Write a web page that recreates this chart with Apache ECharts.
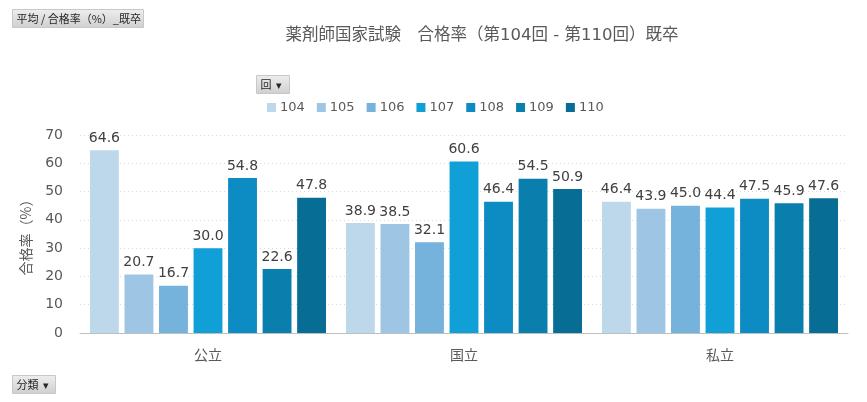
<!DOCTYPE html>
<html><head><meta charset="utf-8">
<script src="https://cdn.jsdelivr.net/npm/echarts@6/dist/echarts.min.js"></script>
<style>html,body{margin:0;padding:0;background:#fff}#c{width:867px;height:402px}</style>
</head><body><div id="c"></div>
<script>
const categories = ['公立', '国立', '私立'];
const seriesNames = ['104', '105', '106', '107', '108', '109', '110'];
const s104 = [64.6, 38.9, 46.4];
const s105 = [20.7, 38.5, 43.9];
const s106 = [16.7, 32.1, 45.0];
const s107 = [30.0, 60.6, 44.4];
const s108 = [54.8, 46.4, 47.5];
const s109 = [22.6, 54.5, 45.9];
const s110 = [47.8, 50.9, 47.6];
const yTicks = [0, 10, 20, 30, 40, 50, 60, 70];
const seriesValues = [s104, s105, s106, s107, s108, s109, s110];
const colors = ['#BDD7EB', '#9EC6E4', '#75B2DC', '#109FD6', '#0D8CC3', '#0A7FAD', '#086D95'];
const FONT = '"DejaVu Sans", "Noto Sans CJK JP", sans-serif';
const CJK = '"Noto Sans CJK JP", sans-serif';

const chart = echarts.init(document.getElementById('c'));
function btn(x, y, w, h, text) {
  return {
    type: 'group', left: x, top: y,
    children: [
      { type: 'rect', shape: { x: 0, y: 0, width: w, height: h },
        style: { fill: new echarts.graphic.LinearGradient(0, 0, 0, 1, [
          { offset: 0, color: '#eeeeee' }, { offset: 1, color: '#cfcfcf' }]),
          stroke: '#c8c8c8', lineWidth: 1 } },
      { type: 'text', x: 4, y: h / 2, style: { text: text, fontSize: 11, fontFamily: CJK, fill: '#262626', verticalAlign: 'middle' } }
    ]
  };
}
chart.setOption({
  animation: false,
  color: colors,
  title: {
    text: '薬剤師国家試験　合格率（第104回 - 第110回）既卒',
    left: 477, top: 22, textAlign: 'center',
    textStyle: { fontSize: 16.5, fontWeight: 'normal', color: '#595959', fontFamily: FONT }
  },
  legend: {
    top: 96, left: 262, itemWidth: 9, itemHeight: 9, itemGap: 12,
    icon: 'rect',
    textStyle: { fontSize: 13, color: '#595959', fontFamily: FONT, padding: [0, 0, 0, -1] },
    data: seriesNames
  },
  grid: { left: 80, right: 19, top: 135, bottom: 69, containLabel: false },
  xAxis: {
    type: 'category', data: categories,
    axisLine: { lineStyle: { color: '#bfbfbf' } },
    axisTick: { show: false },
    axisLabel: { fontSize: 14, color: '#595959', fontFamily: CJK, margin: 15 }
  },
  yAxis: {
    type: 'value', min: yTicks[0], max: yTicks[yTicks.length - 1], interval: 10,
    name: '合格率（%）', nameLocation: 'middle', nameGap: 47,
    nameTextStyle: { fontSize: 14, color: '#595959', fontFamily: CJK },
    axisLine: { show: false }, axisTick: { show: false },
    axisLabel: { fontSize: 14, color: '#595959', fontFamily: FONT, margin: 17 },
    splitLine: { lineStyle: { color: '#d9d9d9', type: [1, 3] } }
  },
  series: seriesNames.map((n, i) => ({
    name: n, type: 'bar', data: seriesValues[i],
    barGap: '19.6%', barCategoryGap: '7.8%',
    itemStyle: { color: colors[i] },
    label: { show: true, position: 'top', distance: 5, fontSize: 14, color: '#404040', fontFamily: FONT,
      formatter: p => p.value.toFixed(1) }
  })),
  graphic: [
    btn(12, 9, 131, 18, '平均 / 合格率（%）_既卒'),
    btn(256, 75, 33, 18, '回  ▾'),
    btn(12, 375, 43, 18, '分類  ▾')
  ]
});
</script></body></html>
